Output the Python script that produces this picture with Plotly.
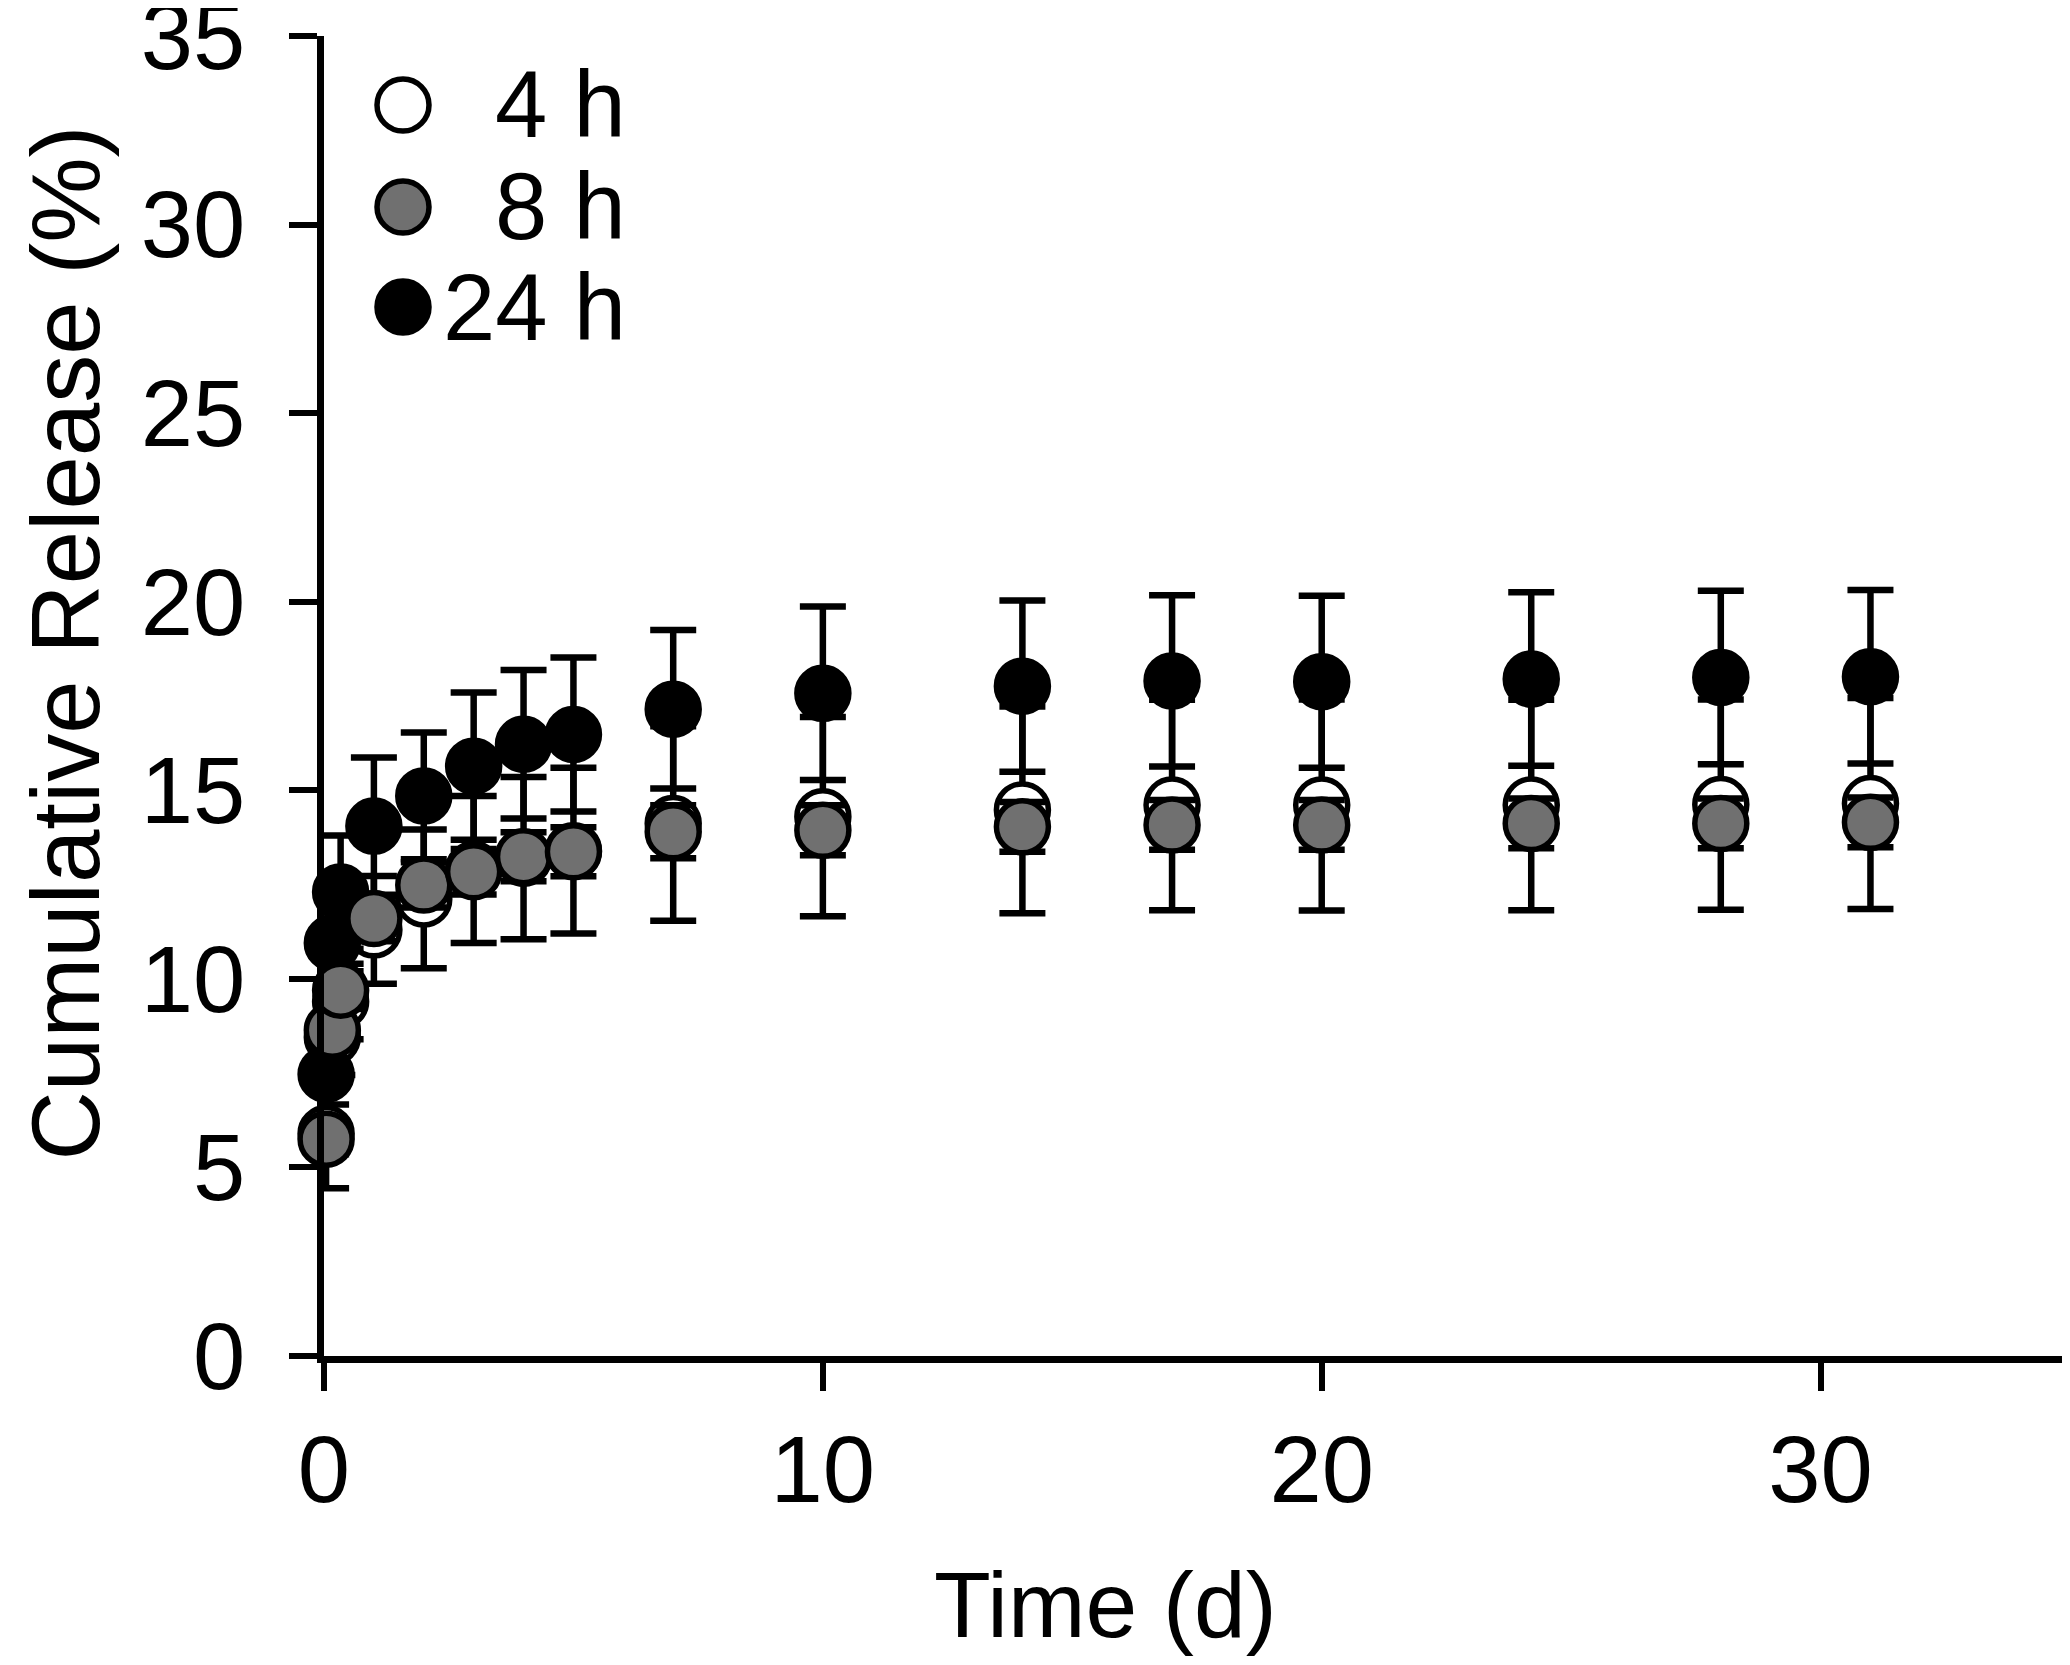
import plotly.graph_objects as go

# ---- data ----
time_d = [0.042, 0.167, 0.333, 1, 2, 3, 4, 5, 7, 10, 14, 17, 20, 24.2, 28, 31]

rel_4h = [5.9, 8.45, 9.4, 11.3, 12.12, 12.9, 13.2, 13.4, 14.12, 14.3, 14.48, 14.61, 14.61, 14.61, 14.62, 14.65]
err_4h = [1.45, 1.0, 1.0, 1.43, 1.84, 1.95, 2.15, 2.2, 2.58, 2.64, 2.74, 2.79, 2.8, 2.79, 2.79, 2.8]

rel_8h = [5.75, 8.64, 9.7, 11.6, 12.49, 12.84, 13.24, 13.37, 13.9, 13.94, 14.03, 14.08, 14.08, 14.12, 14.12, 14.15]
err_8h = [0.4, 0.5, 0.5, 0.6, 0.6, 0.6, 0.65, 0.65, 0.7, 0.66, 0.66, 0.66, 0.66, 0.66, 0.66, 0.66]

rel_24h = [7.47, 10.95, 12.3, 14.05, 14.85, 15.64, 16.22, 16.48, 17.15, 17.57, 17.76, 17.9, 17.88, 17.95, 17.99, 18.01]
err_24h = [0.8, 1.3, 1.5, 1.82, 1.68, 1.95, 1.97, 2.04, 2.1, 2.3, 2.27, 2.27, 2.28, 2.3, 2.3, 2.3]

series_names = ["4 h", "8 h", "24 h"]
series_fill = ["#ffffff", "#707070", "#000000"]

x_ticks = [0, 10, 20, 30]
y_ticks = [0, 5, 10, 15, 20, 25, 30, 35]

FONT = "Liberation Sans, Arial, Helvetica, sans-serif"

# the page body adds an 8 px offset, so the figure is 8 px smaller
W, H = 2062, 1657
L, R, T, B = 316, 0, 28, 309


def px_x(px):
    return (px - L) / (W - L - R)


def px_y(py):
    return (H - B - py) / (H - T - B)


fig = go.Figure()


def add_series(y, e, name, fill):
    fig.add_trace(go.Scatter(
        x=time_d, y=y, name=name, mode="markers",
        marker=dict(size=52, color=fill, line=dict(color="black", width=5.5)),
        error_y=dict(type="data", array=e, visible=True, color="black",
                     thickness=6.5, width=23),
        cliponaxis=False, showlegend=False,
    ))


# drawing order: 4 h (bottom), 24 h, 8 h (top)
add_series(rel_4h, err_4h, series_names[0], series_fill[0])
add_series(rel_24h, err_24h, series_names[2], series_fill[2])
add_series(rel_8h, err_8h, series_names[1], series_fill[1])

# ---- custom legend (large symbols) ----
leg_cx = 395
leg_cy = [97, 199, 299]
leg_text_right = 620
shapes = []
annotations = []
for i, (nm, fc) in enumerate(zip(series_names, series_fill)):
    shapes.append(dict(
        type="circle", xref="paper", yref="paper",
        xsizemode="pixel", ysizemode="pixel",
        xanchor=px_x(leg_cx), yanchor=px_y(leg_cy[i]),
        x0=-26, x1=26, y0=-26, y1=26,
        fillcolor=fc, line=dict(color="black", width=5.5),
    ))
    annotations.append(dict(
        text=nm, xref="paper", yref="paper",
        x=px_x(leg_text_right), y=px_y(leg_cy[i]),
        xanchor="right", yanchor="middle", showarrow=False,
        font=dict(family=FONT, size=94, color="black"),
    ))

# axis titles
annotations.append(dict(
    text="Time (d)", xref="paper", yref="paper", x=px_x(1097), y=px_y(1597),
    xanchor="center", yanchor="middle", showarrow=False,
    font=dict(family=FONT, size=93, color="black"),
))
annotations.append(dict(
    text="Cumulative Release (%)", xref="paper", yref="paper",
    x=px_x(1), y=px_y(635),
    xanchor="left", yanchor="middle", showarrow=False, textangle=-90,
    font=dict(family=FONT, size=96, color="black"),
))

fig.update_layout(
    width=W, height=H,
    margin=dict(l=L, r=R, t=T, b=B, pad=0, autoexpand=False),
    paper_bgcolor="white", plot_bgcolor="white",
    font=dict(family=FONT, size=94, color="black"),
    shapes=shapes, annotations=annotations,
    showlegend=False,
)
fig.update_xaxes(
    range=[0, 35], tickvals=x_ticks, ticktext=[str(v) for v in x_ticks],
    showline=True, linecolor="black", linewidth=7,
    ticks="outside", ticklen=28, tickwidth=5.5, tickcolor="black",
    showgrid=False, zeroline=False, ticklabelstandoff=-2,
    automargin=False,
    tickfont=dict(family=FONT, size=94, color="black"),
)
fig.update_yaxes(
    range=[0, 35], tickvals=y_ticks, ticktext=[str(v) for v in y_ticks],
    showline=True, linecolor="black", linewidth=7,
    ticks="outside", ticklen=28, tickwidth=5.5, tickcolor="black",
    showgrid=False, zeroline=False, ticklabelstandoff=25,
    ticklabeloverflow="allow", automargin=False,
    tickfont=dict(family=FONT, size=94, color="black"),
)

fig.write_html("out.html")
